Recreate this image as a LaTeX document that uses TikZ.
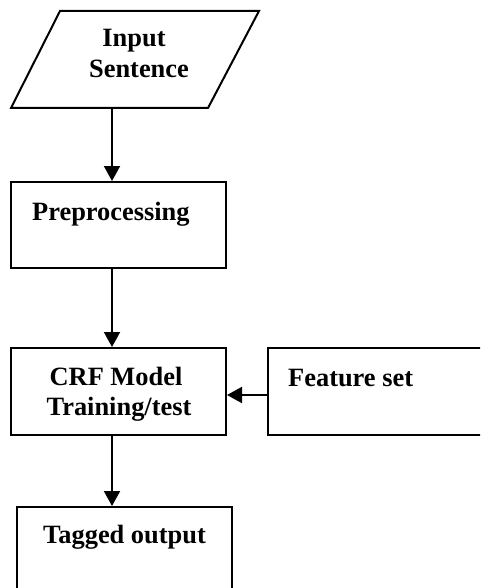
\documentclass[tikz,border=0pt]{standalone}
\usepackage{fontspec}
\setmainfont{Liberation Serif}
\usetikzlibrary{arrows.meta}
\begin{document}
\begin{tikzpicture}[x=1pt,y=-1pt,
  box/.style={draw,line width=2pt,rectangle,minimum width=215pt,minimum height=86pt,inner sep=0pt},
  para/.style={draw,line width=2pt,line join=miter},
  lbl/.style={inner sep=0pt,font=\fontsize{26.4}{30}\selectfont\bfseries},
  arr/.style={line width=2pt,-{Triangle[length=15pt,width=16pt]}}]
\useasboundingbox (0,0) rectangle (480,588);
\clip (0,0) rectangle (480,588);
% input parallelogram
\coordinate (inbl) at (11,108);
\coordinate (inbr) at (208,108);
\coordinate (intr) at (259,11);
\coordinate (intl) at (60,11);
\draw[para] (inbl) -- (inbr) -- (intr) -- (intl) -- cycle;
\coordinate (in) at (112,108);
% boxes
\node[box] (pre) at (118.5,225) {};
\node[box,minimum height=87pt] (crf) at (118.5,391.5) {};
\node[box,minimum width=214pt,minimum height=87pt] (feat) at (375,391.5) {};
\node[box,minimum height=90pt] (tag) at (124.5,552) {};
% texts
\node[lbl,anchor=base] (t1) at (134,47) {Input};
\node[lbl,anchor=base] (t2) at (139,78) {Sentence};
\node[lbl,anchor=base west] (t3) at (32,220) {Preprocessing};
\node[lbl,anchor=base] (t4) at (116,385) {CRF Model};
\node[lbl,anchor=base] (t5) at (119,415) {Training/test};
\node[lbl,anchor=base west] (t6) at (288,386) {Feature set};
\node[lbl,anchor=base west] (t7) at (43,543) {Tagged output};
% connectors
\coordinate (ax) at (112,0);
\coordinate (ay) at (0,395);
\draw[arr] (in) -- (pre.north -| ax);
\draw[arr] (pre.south -| ax) -- (crf.north -| ax);
\draw[arr] (feat.west |- ay) -- (crf.east |- ay);
\draw[arr] (crf.south -| ax) -- (tag.north -| ax);
\end{tikzpicture}
\end{document}
